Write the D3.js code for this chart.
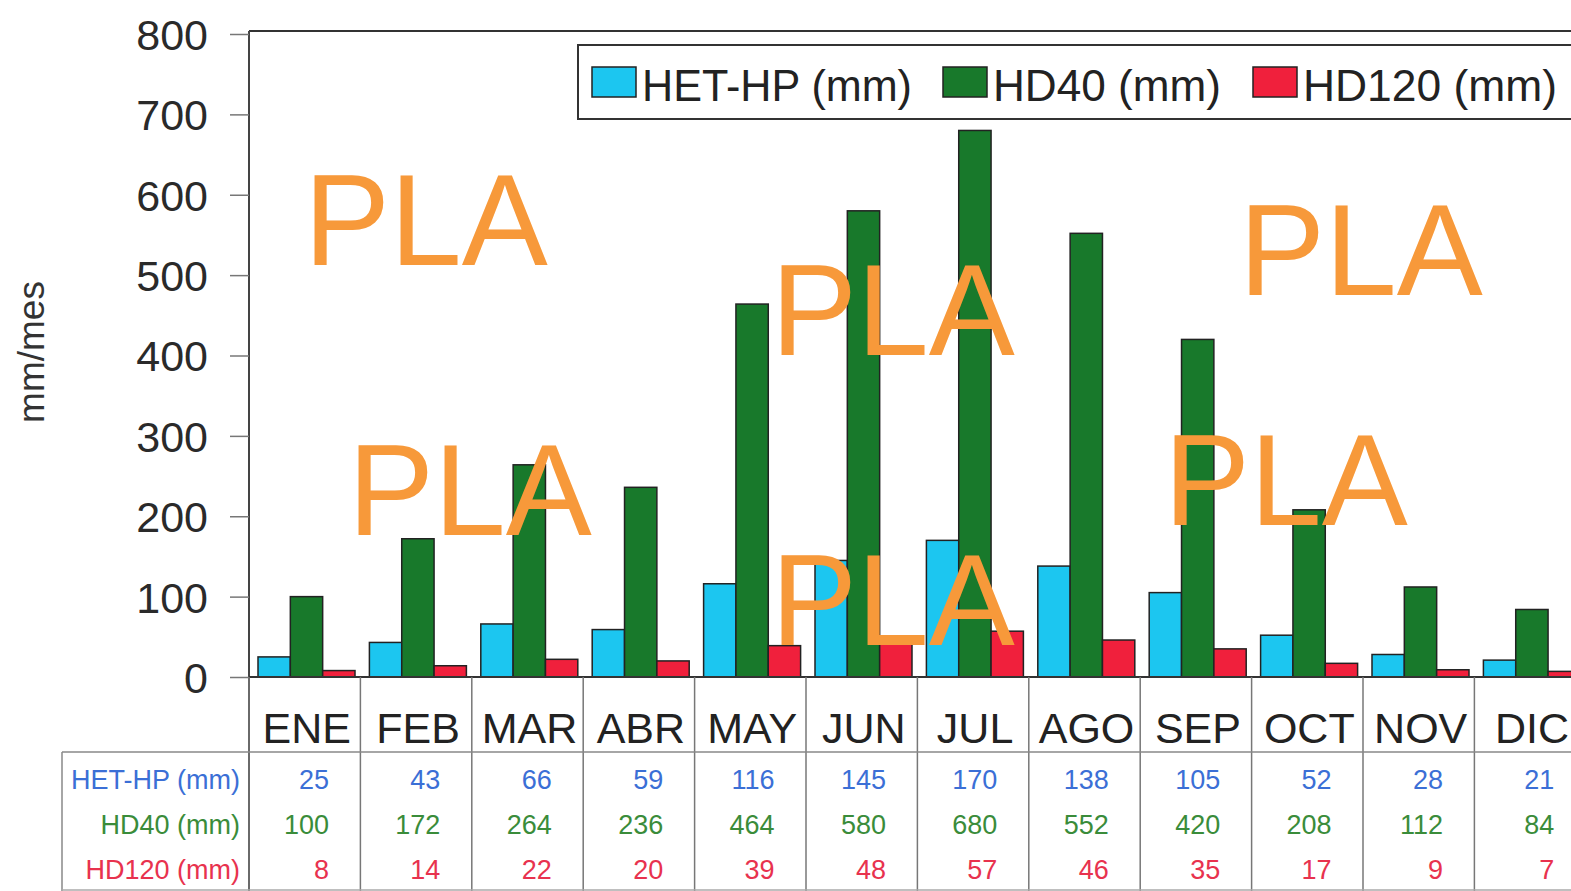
<!DOCTYPE html>
<html><head><meta charset="utf-8">
<script src="https://cdn.jsdelivr.net/npm/d3@7"></script>
<style>
html,body{margin:0;padding:0;background:#fff;overflow:hidden}
text{font-family:"Liberation Sans",Arial,Helvetica,sans-serif}
</style></head>
<body><svg id="c" width="1571" height="891"></svg>
<script>
const months = ["ENE","FEB","MAR","ABR","MAY","JUN","JUL","AGO","SEP","OCT","NOV","DIC"];
const seriesNames = ["HET-HP (mm)","HD40 (mm)","HD120 (mm)"];
const hetHP = [25,43,66,59,116,145,170,138,105,52,28,21];
const hd40 = [100,172,264,236,464,580,680,552,420,208,112,84];
const hd120 = [8,14,22,20,39,48,57,46,35,17,9,7];
const yTicks = [0,100,200,300,400,500,600,700,800];
const yLabel = "mm/mes";
const watermark = "PLA";
const watermarkSpots = [[304,265],[771,355],[1239,295],[348,535],[1164,525],[771,645]];

const barColors = ["#1cc6f0","#18792b","#f0203c"];
const textColors = ["#3b6fd6","#3a8c3a","#e8324e"];
const series = [hetHP, hd40, hd120];

const svg = d3.select("#c");
const plotLeft = 249, plotTop = 31, plotBottom = 677;
const band = 111.4;
const x = d3.scaleBand().domain(months).range([plotLeft, plotLeft + band*months.length]).paddingInner(0).paddingOuter(0);
const y = d3.scaleLinear().domain([0,800]).range([plotBottom, plotTop+3]);
const xs = d3.scaleBand().domain(d3.range(3)).range([9, 9+97]);

// plot frame top and left
svg.append("line").attr("x1",plotLeft).attr("x2",1571).attr("y1",plotTop).attr("y2",plotTop).attr("stroke","#333").attr("stroke-width",2);
svg.append("line").attr("x1",plotLeft).attr("x2",plotLeft).attr("y1",plotTop).attr("y2",891).attr("stroke","#444").attr("stroke-width",2);

// y axis
const yAxis = d3.axisLeft(y).tickValues(yTicks).tickSize(19).tickPadding(22).tickFormat(d3.format("d"));
const ga = svg.append("g").attr("transform",`translate(${plotLeft},0)`).call(yAxis);
ga.select(".domain").remove();
ga.selectAll(".tick line").attr("stroke","#777").attr("stroke-width",1.5);
ga.selectAll(".tick text").attr("font-size",43).attr("fill","#2a2a2a").attr("dy","0.36em")
  .style("font-family",'"Liberation Sans",Arial,sans-serif');

svg.append("text").attr("transform","translate(44,352) rotate(-90)").attr("text-anchor","middle")
  .attr("font-size",37).attr("fill","#333").text(yLabel);

// bars
series.forEach((vals,si)=>{
  svg.append("g").selectAll("rect").data(vals).join("rect")
    .attr("x",(d,i)=>x(months[i])+xs(si))
    .attr("width",xs.bandwidth())
    .attr("y",d=>y(d))
    .attr("height",d=>y(0)-y(d))
    .attr("fill",barColors[si]).attr("stroke","#222").attr("stroke-width",1.5);
});

// baseline
svg.append("line").attr("x1",plotLeft).attr("x2",1571).attr("y1",plotBottom).attr("y2",plotBottom).attr("stroke","#333").attr("stroke-width",2);

// table: vertical lines
svg.append("g").selectAll("line").data(months).join("line")
  .attr("x1",d=>x(d)).attr("x2",d=>x(d)).attr("y1",plotBottom).attr("y2",891)
  .attr("stroke","#777").attr("stroke-width",1.5);
svg.append("line").attr("x1",62).attr("x2",1571).attr("y1",752).attr("y2",752).attr("stroke","#888").attr("stroke-width",1.5);
svg.append("line").attr("x1",62).attr("x2",62).attr("y1",752).attr("y2",891).attr("stroke","#888").attr("stroke-width",1.5);
svg.append("line").attr("x1",62).attr("x2",1571).attr("y1",890).attr("y2",890).attr("stroke","#aaa").attr("stroke-width",1.5);

// month labels
svg.append("g").selectAll("text").data(months).join("text")
  .attr("x",d=>x(d)+band/2+2).attr("y",743).attr("text-anchor","middle")
  .attr("font-size",43).attr("fill","#222").text(d=>d);

// table rows
const rowY = [789,834,879];
series.forEach((vals,si)=>{
  svg.append("text").attr("x",240).attr("y",rowY[si]).attr("text-anchor","end")
    .attr("font-size",27).attr("fill",textColors[si]).text(seriesNames[si]);
  svg.append("g").selectAll("text").data(vals).join("text")
    .attr("x",(d,i)=>x(months[i])+80).attr("y",rowY[si]).attr("text-anchor","end")
    .attr("font-size",27).attr("fill",textColors[si]).text(d=>d);
});

// legend
const lg = svg.append("g");
lg.append("rect").attr("x",578).attr("y",45).attr("width",1100).attr("height",74)
  .attr("fill","#fff").attr("stroke","#333").attr("stroke-width",2);
const legendX = [592,943,1253];
seriesNames.forEach((n,i)=>{
  lg.append("rect").attr("x",legendX[i]).attr("y",67).attr("width",44).attr("height",30)
    .attr("fill",barColors[i]).attr("stroke","#222").attr("stroke-width",1.5);
  lg.append("text").attr("x",legendX[i]+50).attr("y",101).attr("font-size",45).attr("fill","#222")
    .attr("textLength", i===0?270:(i===1?228:254)).attr("lengthAdjust","spacingAndGlyphs").text(n);
});

// watermark
svg.append("g").selectAll("text").data(watermarkSpots).join("text")
  .attr("x",d=>d[0]).attr("y",d=>d[1]).attr("font-size",129).attr("fill","#f7993a")
  .text(watermark);
</script></body></html>
